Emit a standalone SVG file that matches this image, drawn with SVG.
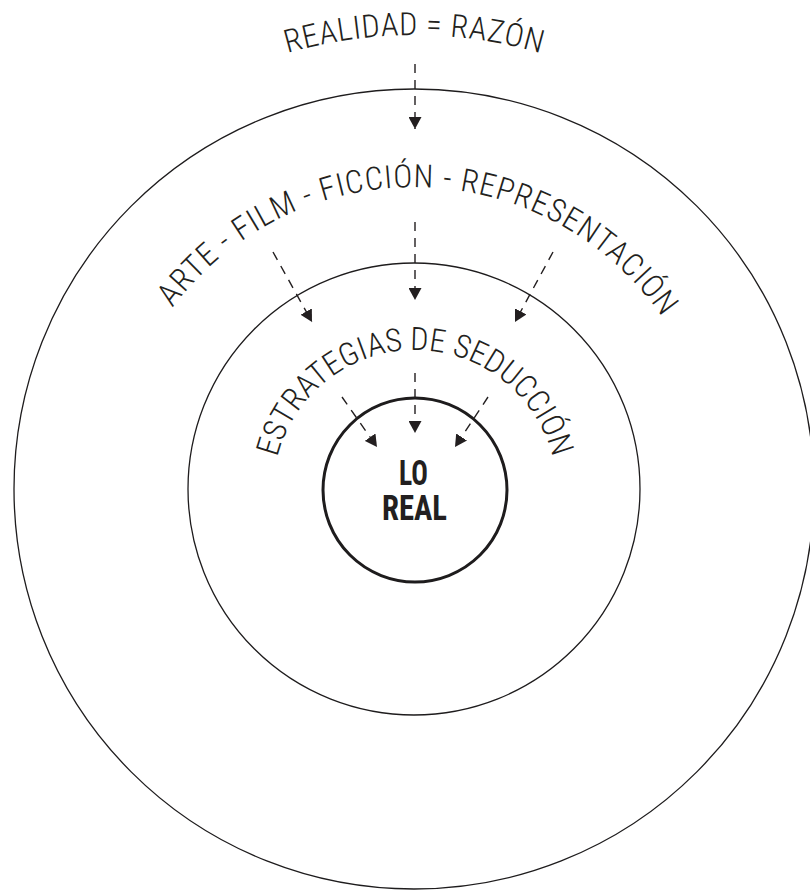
<svg xmlns="http://www.w3.org/2000/svg" width="810" height="890" viewBox="0 0 810 890">
<style>
.ring{fill:none;stroke:#1e1c1d;stroke-width:1.3}
.core{fill:none;stroke:#1e1c1d;stroke-width:3}
.arc{font-family:"Roboto Condensed","DejaVu Sans Condensed","Liberation Sans Narrow","Open Sans",sans-serif;font-stretch:condensed;font-weight:300;font-size:32px;fill:#231f20}
.bold{font-family:"Roboto Condensed","DejaVu Sans Condensed","Liberation Sans Narrow","Open Sans",sans-serif;font-stretch:condensed;font-weight:700;font-size:35px;fill:#231f20}
.dash{fill:none;stroke:#231f20;stroke-width:1.4;stroke-dasharray:9 7;marker-end:url(#head)}
</style>
<defs>
<marker id="head" markerUnits="userSpaceOnUse" viewBox="0 0 12 13" refX="12" refY="6.5" markerWidth="12" markerHeight="13" orient="auto">
<path d="M0,0 L12,6.5 L0,13 Z" fill="#231f20"/>
</marker>
<path id="p1" d="M -40,489 A 454 454 0 0 1 868,489"/>
<path id="p2" d="M 112,489 A 302 302 0 0 1 716,489"/>
<path id="p3" d="M 273,492 A 142 142 0 0 1 557,492"/>
</defs>
<g id="outer"><circle class="ring" cx="414" cy="489" r="400"/></g>
<g id="middle"><circle class="ring" cx="414" cy="489" r="226"/></g>
<g id="inner"><circle class="core" cx="415" cy="490" r="92"/></g>
<g id="realidad"><text class="arc"><textPath href="#p1" startOffset="50%" text-anchor="middle" textLength="257" lengthAdjust="spacing">REALIDAD = RAZÓN</textPath></text></g>
<g id="arte"><text class="arc"><textPath href="#p2" startOffset="50.6%" text-anchor="middle" textLength="571" lengthAdjust="spacing">ARTE - FILM - FICCIÓN - REPRESENTACIÓN</textPath></text></g>
<g id="estrategias"><text class="arc"><textPath href="#p3" startOffset="50%" text-anchor="middle" textLength="376" lengthAdjust="spacing">ESTRATEGIAS DE SEDUCCIÓN</textPath></text></g>
<g id="loreal">
<text class="bold" x="399" y="485" textLength="29" lengthAdjust="spacingAndGlyphs">LO</text>
<text class="bold" x="382" y="520" textLength="65" lengthAdjust="spacingAndGlyphs">REAL</text>
</g>
<g id="connectors">
<path class="dash" d="M415,64 L415,129"/>
<path class="dash" d="M415,222 L415,300"/>
<path class="dash" d="M273,252 L312,322"/>
<path class="dash" d="M553,252 L515,322"/>
<path class="dash" d="M415,373 L415,433"/>
<path class="dash" d="M342,397 L377,447"/>
<path class="dash" d="M488,397 L455,447"/>
</g>
</svg>
